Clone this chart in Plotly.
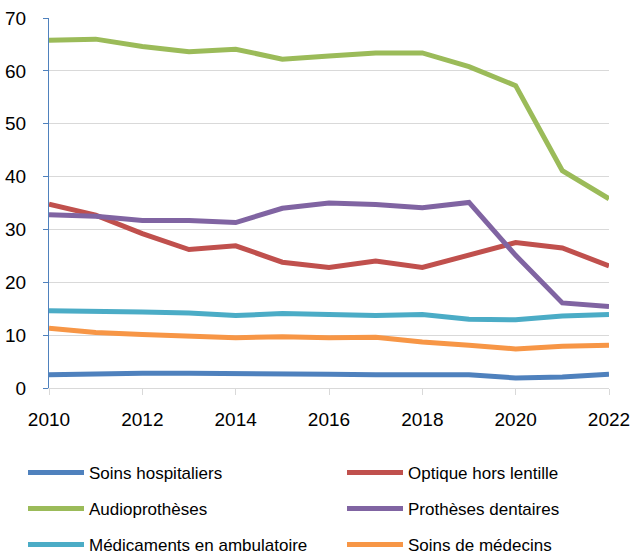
import plotly.graph_objects as go

years = list(range(2010, 2023))
soins_hosp = [2.5, 2.7, 2.8, 2.8, 2.8, 2.8, 2.6, 2.5, 2.5, 2.5, 1.9, 2.1, 2.6]
optique = [34.8, 32.7, 29.2, 26.2, 26.9, 23.8, 22.8, 24.0, 22.8, 25.1, 27.5, 26.5, 23.1]
audio = [65.8, 66.0, 64.6, 63.6, 64.1, 62.2, 62.8, 63.4, 63.4, 60.8, 57.2, 41.1, 35.8]
protheses = [32.8, 32.5, 31.7, 31.7, 31.3, 34.0, 35.0, 34.7, 34.1, 35.1, 25.1, 16.1, 15.4]
medicaments = [14.6, 14.6, 14.4, 14.2, 13.7, 14.1, 13.9, 13.7, 13.9, 13.0, 12.9, 13.6, 13.9]
medecins = [11.3, 10.5, 10.1, 9.9, 9.5, 9.7, 9.5, 9.6, 8.7, 8.1, 7.4, 7.9, 8.1]
x_ticks = [2010, 2012, 2014, 2016, 2018, 2020, 2022]
y_ticks = [0, 10, 20, 30, 40, 50, 60, 70]

names = ["Soins hospitaliers", "Optique hors lentille", "Audioprothèses",
         "Prothèses dentaires", "Médicaments en ambulatoire", "Soins de médecins"]
values = [soins_hosp, optique, audio, protheses, medicaments, medecins]
colors = ["#4F81BD", "#C0504D", "#9BBB59", "#8064A2", "#4BACC6", "#F79646"]

FONT = "Liberation Sans, Arial, sans-serif"

L, R, T, B = 49, 23, 18, 166
W, H = 632, 554
plot_w = W - L - R
plot_h = H - T - B

# legend grid (page pixels): text left edge per column, row centre per row
col_text = [89, 408]
row_y = [473, 509, 545]
TEXT_OFFSET = 66  # distance from legend box left to its text

fig = go.Figure()
legends = {}
for i, (name, vals, color) in enumerate(zip(names, values, colors)):
    key = "legend" if i == 0 else f"legend{i + 1}"
    fig.add_trace(go.Scatter(x=years, y=vals, name=name, mode="lines",
                             line=dict(color=color, width=5), legend=key))
    col, row = i % 2, i // 2
    legends[key] = dict(
        orientation="v", xanchor="left", yanchor="middle",
        x=(col_text[col] - TEXT_OFFSET - L) / plot_w,
        y=(H - B - row_y[row]) / plot_h,
        font=dict(family=FONT, size=17, color="#000000"),
        bgcolor="rgba(0,0,0,0)", itemwidth=56,
    )

fig.update_layout(
    width=W, height=H,
    margin=dict(l=L, r=R, t=T, b=B, autoexpand=False),
    paper_bgcolor="white", plot_bgcolor="white",
    font=dict(family=FONT, size=19, color="#000000"),
    showlegend=True,
    xaxis=dict(range=[2010, 2022.0001], tickmode="array", tickvals=x_ticks,
               showgrid=False, showline=True, linecolor="#D9D9D9", linewidth=1,
               ticks="outside", ticklen=6, tickcolor="#D9D9D9",
               ticklabelstandoff=8,
               tickfont=dict(family=FONT, size=19), zeroline=False,
               automargin=False, ticklabeloverflow="allow"),
    yaxis=dict(range=[0, 70], tickmode="array", tickvals=y_ticks,
               showgrid=True, gridcolor="#D9D9D9",
               gridwidth=1, showline=True, linecolor="#4F81BD", linewidth=1,
               ticks="outside", ticklen=5, tickcolor="#4F81BD",
               ticklabelstandoff=13,
               tickfont=dict(family=FONT, size=19), zeroline=False,
               automargin=False),
    **legends,
)

fig.write_html("out.html",
               config={"displayModeBar": False},
               post_script="document.body.style.margin='0';"
                           "document.body.style.overflow='hidden';")
